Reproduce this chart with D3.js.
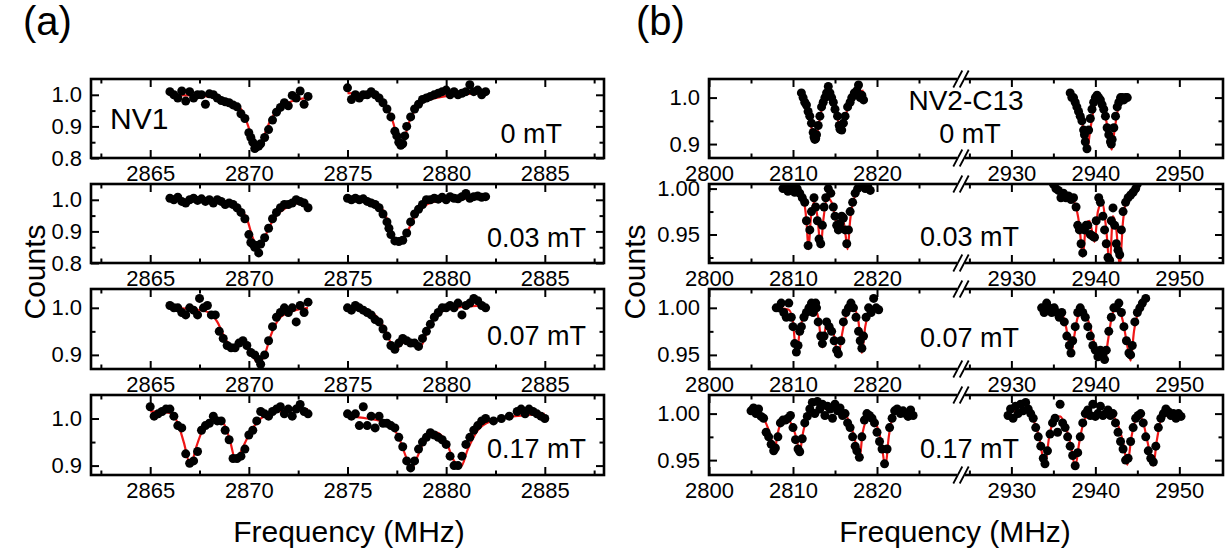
<!DOCTYPE html>
<html><head><meta charset="utf-8">
<script src="https://cdn.jsdelivr.net/npm/d3@7"></script>
<style>body{margin:0;background:#fff}svg{display:block}text{font-family:'Liberation Sans',Arial,Helvetica,sans-serif;fill:#000}</style>
</head><body><script>
// ---------------- DATA ----------------
const aXDomain = [2862, 2888];
const aXMajor = [2865, 2870, 2875, 2880, 2885];
const aXMinor = [2862.5, 2867.5, 2872.5, 2877.5, 2882.5, 2887.5];
const bXDomainLow = [2800, 2830];
const bXDomainHigh = [2924, 2955.2];
const bXMajorLow = [2800, 2810, 2820];
const bXMinorLow = [2805, 2815, 2825];
const bXMajorHigh = [2930, 2940, 2950];
const bXMinorHigh = [2925, 2935, 2945];

const aYDomains = [[0.8, 1.05], [0.8, 1.05], [0.87, 1.04], [0.88, 1.05]];
const aYMajor = [[0.8, 0.9, 1.0], [0.8, 0.9, 1.0], [0.9, 1.0], [0.9, 1.0]];
const aYMinor = [[0.85, 0.95], [0.85, 0.95], [0.95], [0.95]];
const bYDomains = [[0.87, 1.04], [0.919, 1.005], [0.935, 1.02], [0.934, 1.02]];
const bYMajor = [[0.9, 1.0], [0.95, 1.0], [0.95, 1.0], [0.95, 1.0]];
const bYMinor = [[0.95], [0.925, 0.975], [0.975], [0.975]];
const bYFormat = [".1f", ".2f", ".2f", ".2f"];

const fieldLabels = ["0 mT", "0.03 mT", "0.07 mT", "0.17 mT"];

// Panel (a) NV1 measured points
const nv1_0_low = [[2866.0,1.01],[2866.2,1.0],[2866.4,0.99],[2866.6,1.012],[2866.8,0.98],[2867.0,1.01],[2867.2,0.99],[2867.4,1.0],[2867.6,1.0],[2867.8,0.97],[2868.0,1.003],[2868.2,1.0],[2868.4,0.99],[2868.6,0.982],[2868.8,0.978],[2869.0,0.975],[2869.2,0.968],[2869.4,0.962],[2869.6,0.94],[2869.8,0.925],[2870.0,0.88],[2870.1,0.865],[2870.2,0.85],[2870.3,0.83],[2870.4,0.835],[2870.5,0.838],[2870.6,0.845],[2870.8,0.865],[2871.0,0.89],[2871.2,0.92],[2871.4,0.945],[2871.6,0.96],[2871.8,0.975],[2872.0,0.965],[2872.2,0.998],[2872.4,0.99],[2872.6,1.012],[2872.8,0.97],[2873.0,0.995]];
const nv1_0_high = [[2875.0,1.022],[2875.2,0.985],[2875.4,1.0],[2875.6,0.99],[2875.8,1.0],[2876.0,1.0],[2876.2,1.01],[2876.4,1.0],[2876.6,0.99],[2876.8,0.975],[2877.0,0.955],[2877.2,0.93],[2877.4,0.885],[2877.5,0.87],[2877.6,0.85],[2877.7,0.84],[2877.8,0.845],[2877.9,0.87],[2878.0,0.9],[2878.2,0.93],[2878.4,0.955],[2878.6,0.97],[2878.8,0.985],[2879.0,0.99],[2879.2,0.995],[2879.4,1.0],[2879.6,1.005],[2879.8,1.01],[2880.0,1.015],[2880.2,1.0],[2880.4,1.01],[2880.6,1.0],[2880.8,1.005],[2881.0,1.01],[2881.2,1.032],[2881.4,1.01],[2881.6,1.015],[2881.8,1.0],[2882.0,1.01]];
const nv1_003_low = [[2866.0,1.005],[2866.2,1.0],[2866.4,1.008],[2866.6,0.995],[2866.8,0.99],[2867.0,1.0],[2867.2,1.005],[2867.4,0.998],[2867.6,1.003],[2867.8,0.995],[2868.0,1.0],[2868.2,0.99],[2868.4,1.0],[2868.6,0.995],[2868.8,0.985],[2869.0,0.99],[2869.2,0.985],[2869.4,0.975],[2869.6,0.96],[2869.8,0.94],[2870.0,0.89],[2870.1,0.865],[2870.2,0.86],[2870.3,0.85],[2870.4,0.855],[2870.5,0.832],[2870.6,0.86],[2870.8,0.88],[2871.0,0.91],[2871.2,0.94],[2871.4,0.96],[2871.6,0.975],[2871.8,0.985],[2872.0,0.985],[2872.2,0.99],[2872.4,1.0],[2872.6,0.995],[2872.8,0.99],[2873.0,0.975]];
const nv1_003_high = [[2875.0,1.005],[2875.2,1.0],[2875.4,1.005],[2875.6,1.0],[2875.8,1.003],[2876.0,0.995],[2876.2,0.99],[2876.4,0.985],[2876.6,0.975],[2876.8,0.955],[2877.0,0.93],[2877.1,0.91],[2877.2,0.89],[2877.4,0.87],[2877.6,0.868],[2877.8,0.872],[2878.0,0.895],[2878.2,0.93],[2878.4,0.955],[2878.6,0.97],[2878.8,0.985],[2879.0,1.0],[2879.2,1.0],[2879.4,1.005],[2879.6,1.002],[2879.8,1.008],[2880.0,1.0],[2880.2,1.01],[2880.4,1.005],[2880.6,1.003],[2880.8,1.01],[2881.0,1.02],[2881.2,1.005],[2881.4,1.01],[2881.6,1.012],[2881.8,1.008],[2882.0,1.01]];
const nv1_007_low = [[2866.0,1.005],[2866.2,1.0],[2866.4,1.0],[2866.6,0.99],[2866.8,0.985],[2867.0,1.0],[2867.2,0.995],[2867.4,0.985],[2867.5,1.02],[2867.7,1.0],[2867.9,1.005],[2868.1,0.985],[2868.3,0.985],[2868.5,0.95],[2868.7,0.935],[2868.9,0.92],[2869.1,0.915],[2869.3,0.915],[2869.5,0.925],[2869.7,0.93],[2869.9,0.92],[2870.1,0.905],[2870.3,0.9],[2870.5,0.89],[2870.6,0.88],[2870.8,0.9],[2871.0,0.93],[2871.2,0.96],[2871.4,0.98],[2871.6,0.99],[2871.8,1.0],[2872.0,0.99],[2872.2,1.0],[2872.4,0.97],[2872.6,1.005],[2872.8,0.99],[2873.0,1.012]];
const nv1_007_high = [[2875.0,1.0],[2875.2,0.995],[2875.4,1.005],[2875.6,1.0],[2875.8,0.995],[2876.0,0.99],[2876.2,0.985],[2876.4,0.975],[2876.6,0.97],[2876.8,0.955],[2877.0,0.94],[2877.2,0.92],[2877.4,0.912],[2877.6,0.925],[2877.8,0.935],[2878.0,0.93],[2878.2,0.925],[2878.4,0.925],[2878.6,0.918],[2878.8,0.935],[2879.0,0.95],[2879.2,0.965],[2879.4,0.98],[2879.6,0.99],[2879.8,1.0],[2880.0,1.0],[2880.2,1.005],[2880.4,1.0],[2880.6,1.01],[2880.8,0.985],[2881.0,1.005],[2881.2,1.01],[2881.4,1.02],[2881.6,1.015],[2881.8,1.005],[2882.0,1.0]];
const nv1_017_low = [[2865.0,1.025],[2865.2,1.005],[2865.4,1.01],[2865.6,1.015],[2865.8,1.02],[2866.0,1.02],[2866.2,1.005],[2866.4,0.985],[2866.6,0.98],[2866.8,0.925],[2867.0,0.905],[2867.2,0.91],[2867.4,0.93],[2867.6,0.975],[2867.8,0.985],[2868.0,0.99],[2868.2,1.005],[2868.4,0.995],[2868.6,0.995],[2868.8,0.975],[2869.0,0.955],[2869.2,0.915],[2869.4,0.915],[2869.6,0.92],[2869.8,0.935],[2870.0,0.965],[2870.2,0.975],[2870.4,0.995],[2870.6,1.015],[2870.8,1.01],[2871.0,1.005],[2871.2,1.015],[2871.4,1.02],[2871.6,1.025],[2871.8,1.01],[2872.0,1.02],[2872.2,1.005],[2872.4,1.02],[2872.6,1.03],[2872.8,1.015],[2873.0,1.01]];
const nv1_017_high = [[2875.0,1.01],[2875.2,1.005],[2875.4,1.01],[2875.6,0.985],[2875.8,1.025],[2876.0,0.985],[2876.2,1.005],[2876.4,0.98],[2876.6,1.005],[2876.8,0.99],[2877.0,0.99],[2877.2,0.985],[2877.4,0.98],[2877.6,0.96],[2877.8,0.94],[2878.0,0.91],[2878.2,0.895],[2878.4,0.91],[2878.6,0.935],[2878.8,0.95],[2879.0,0.96],[2879.2,0.97],[2879.4,0.965],[2879.6,0.96],[2879.8,0.955],[2880.0,0.945],[2880.2,0.92],[2880.4,0.9],[2880.6,0.9],[2880.8,0.92],[2881.0,0.945],[2881.2,0.96],[2881.4,0.975],[2881.6,0.985],[2881.8,0.995],[2882.0,1.0],[2882.4,0.995],[2882.8,1.0],[2883.2,1.005],[2883.6,1.015],[2883.8,1.02],[2884.0,1.01],[2884.2,1.02],[2884.4,1.015],[2884.6,1.01],[2884.8,1.005],[2885.0,1.0]];

// Panel (a) fitted curves
const nv1_0_fitLow = [[2866,1.0],[2867,0.998],[2868,0.994],[2868.8,0.985],[2869.3,0.97],[2869.7,0.945],[2870.0,0.895],[2870.2,0.855],[2870.35,0.83],[2870.55,0.84],[2870.8,0.875],[2871.1,0.92],[2871.5,0.955],[2872,0.975],[2872.5,0.985],[2873,0.99]];
const nv1_0_fitHigh = [[2875,1.005],[2876,1.0],[2876.6,0.99],[2877,0.96],[2877.3,0.915],[2877.5,0.87],[2877.7,0.84],[2877.9,0.865],[2878.1,0.91],[2878.4,0.95],[2878.8,0.975],[2879.5,0.99],[2880.5,1.0],[2882,1.005]];
const nv1_003_fitLow = [[2866,1.0],[2867,1.0],[2868,0.998],[2869,0.99],[2869.5,0.975],[2869.9,0.94],[2870.2,0.88],[2870.45,0.845],[2870.7,0.865],[2871,0.91],[2871.4,0.95],[2871.9,0.975],[2872.5,0.99],[2873,0.993]];
const nv1_003_fitHigh = [[2875,1.0],[2876,1.0],[2876.5,0.99],[2876.9,0.955],[2877.2,0.905],[2877.5,0.865],[2877.7,0.862],[2878,0.895],[2878.4,0.945],[2878.9,0.98],[2879.5,0.995],[2880.5,1.003],[2882,1.005]];
const nv1_007_fitLow = [[2866,1.0],[2867,0.998],[2868,0.99],[2868.4,0.97],[2868.8,0.935],[2869.1,0.918],[2869.4,0.92],[2869.7,0.925],[2870.1,0.905],[2870.5,0.882],[2870.8,0.9],[2871.1,0.94],[2871.5,0.975],[2872,0.99],[2873,1.0]];
const nv1_007_fitHigh = [[2875,1.0],[2876,0.995],[2876.5,0.98],[2876.9,0.955],[2877.2,0.925],[2877.45,0.913],[2877.8,0.925],[2878.1,0.93],[2878.5,0.92],[2878.7,0.918],[2879,0.945],[2879.3,0.97],[2879.7,0.99],[2880.5,1.0],[2882,1.005]];
const nv1_017_fitLow = [[2865,1.015],[2866,1.012],[2866.4,0.99],[2866.7,0.95],[2867.05,0.9],[2867.3,0.935],[2867.6,0.97],[2868.1,0.995],[2868.6,0.995],[2869.0,0.96],[2869.35,0.91],[2869.6,0.93],[2870,0.965],[2870.6,1.0],[2871.5,1.015],[2873,1.02]];
const nv1_017_fitHigh = [[2875,1.005],[2876,1.0],[2877,0.99],[2877.6,0.96],[2878,0.915],[2878.25,0.895],[2878.5,0.915],[2879,0.96],[2879.5,0.97],[2880,0.95],[2880.4,0.91],[2880.75,0.898],[2881.1,0.935],[2881.6,0.975],[2882.3,0.995],[2883.5,1.005],[2885,1.01]];

// Panel (b) NV2-C13 measured points
const nv2_0_low = [[2811.0,1.01],[2811.2,1.0],[2811.4,0.99],[2811.6,0.984],[2811.8,0.97],[2812.0,0.96],[2812.2,0.945],[2812.4,0.925],[2812.5,0.915],[2812.6,0.91],[2812.7,0.912],[2812.8,0.92],[2813.0,0.94],[2813.2,0.96],[2813.4,0.98],[2813.6,0.99],[2813.8,1.0],[2814.0,1.01],[2814.2,1.024],[2814.4,1.01],[2814.6,1.0],[2814.8,0.99],[2815.0,0.975],[2815.3,0.96],[2815.5,0.94],[2815.6,0.932],[2815.8,0.93],[2816.0,0.945],[2816.2,0.96],[2816.5,0.98],[2816.8,0.99],[2817.0,1.0],[2817.3,1.01],[2817.6,1.015],[2817.8,1.027],[2818.0,1.0],[2818.2,1.005],[2818.4,0.995]];
const nv2_0_high = [[2937.0,1.01],[2937.2,1.0],[2937.4,1.0],[2937.6,0.99],[2937.8,0.98],[2938.0,0.97],[2938.2,0.96],[2938.4,0.95],[2938.6,0.93],[2938.7,0.92],[2938.8,0.905],[2939.0,0.89],[2939.2,0.93],[2939.4,0.955],[2939.6,0.975],[2939.8,0.99],[2940.0,1.0],[2940.2,1.005],[2940.4,1.0],[2940.6,0.995],[2940.8,0.985],[2941.0,0.975],[2941.2,0.96],[2941.4,0.935],[2941.6,0.92],[2941.8,0.905],[2941.9,0.9],[2942.0,0.91],[2942.2,0.935],[2942.4,0.96],[2942.6,0.98],[2942.8,0.99],[2943.0,1.0],[2943.2,1.0],[2943.4,0.995],[2943.6,1.0],[2943.8,1.0]];
const nv2_003_low = [[2808.8,1.0],[2809.1,1.003],[2809.4,0.997],[2809.7,1.0],[2810.0,1.005],[2810.2,0.996],[2810.5,1.0],[2810.8,0.995],[2811.1,0.99],[2811.4,0.985],[2811.6,0.965],[2811.8,0.938],[2812.0,0.955],[2812.2,0.975],[2812.5,0.99],[2812.7,0.98],[2812.9,0.965],[2813.1,0.945],[2813.3,0.94],[2813.5,0.96],[2813.7,0.98],[2813.9,0.99],[2814.2,1.0],[2814.5,0.995],[2814.8,0.98],[2815.0,0.97],[2815.2,0.96],[2815.4,0.955],[2815.6,0.962],[2815.8,0.97],[2816.0,0.968],[2816.2,0.955],[2816.4,0.94],[2816.6,0.955],[2816.8,0.975],[2817.1,0.985],[2817.4,0.995],[2817.7,1.0],[2818.0,1.005],[2818.3,1.003],[2818.6,1.0],[2818.9,1.002],[2819.2,0.998]];
const nv2_003_high = [[2935.0,1.005],[2935.3,1.0],[2935.6,0.998],[2935.9,0.99],[2936.2,0.995],[2936.5,0.99],[2936.8,0.992],[2937.1,0.988],[2937.4,0.99],[2937.7,0.98],[2937.9,0.96],[2938.1,0.955],[2938.3,0.94],[2938.5,0.93],[2938.7,0.955],[2938.9,0.96],[2939.1,0.96],[2939.4,0.95],[2939.7,0.948],[2939.9,0.947],[2940.1,0.965],[2940.4,0.99],[2940.6,0.985],[2940.9,0.97],[2941.1,0.955],[2941.3,0.94],[2941.5,0.925],[2941.7,0.922],[2941.9,0.965],[2942.1,0.979],[2942.3,0.96],[2942.5,0.94],[2942.7,0.933],[2942.9,0.928],[2943.1,0.955],[2943.3,0.975],[2943.6,0.985],[2943.9,0.99],[2944.2,0.993],[2944.5,0.996],[2944.8,1.0],[2945.0,1.005]];
const nv2_007_low = [[2808.0,1.0],[2808.3,1.0],[2808.6,1.005],[2808.9,0.995],[2809.2,0.99],[2809.5,1.005],[2809.8,0.99],[2810.0,0.98],[2810.2,0.962],[2810.4,0.953],[2810.6,0.96],[2810.8,0.975],[2811.0,0.98],[2811.3,0.99],[2811.6,0.995],[2811.9,1.0],[2812.2,1.005],[2812.3,1.002],[2812.4,0.995],[2812.5,1.0],[2812.7,1.005],[2812.8,1.0],[2813.0,0.985],[2813.3,0.97],[2813.5,0.962],[2813.7,0.97],[2814.0,0.985],[2814.3,0.98],[2814.6,0.975],[2814.9,0.965],[2815.2,0.955],[2815.4,0.951],[2815.7,0.965],[2816.0,0.985],[2816.3,0.995],[2816.6,1.0],[2816.9,1.005],[2817.2,1.0],[2817.5,0.99],[2817.8,0.975],[2818.0,0.965],[2818.2,0.957],[2818.4,0.97],[2818.7,0.99],[2819.0,1.0],[2819.3,0.995],[2819.6,1.01],[2819.9,1.0],[2820.2,0.998]];
const nv2_007_high = [[2933.6,1.0],[2933.9,0.995],[2934.2,1.005],[2934.5,1.0],[2934.8,0.995],[2935.1,1.0],[2935.4,0.995],[2935.7,0.99],[2936.0,0.995],[2936.3,0.985],[2936.6,0.97],[2936.9,0.96],[2937.1,0.952],[2937.3,0.965],[2937.6,0.98],[2937.9,0.995],[2938.2,1.0],[2938.5,0.995],[2938.8,0.99],[2939.1,0.98],[2939.4,0.97],[2939.7,0.96],[2940.0,0.955],[2940.3,0.948],[2940.6,0.955],[2940.9,0.95],[2941.1,0.945],[2941.3,0.955],[2941.6,0.975],[2941.9,0.99],[2942.2,1.0],[2942.5,1.0],[2942.8,1.005],[2943.1,0.995],[2943.4,0.98],[2943.7,0.965],[2944.0,0.952],[2944.2,0.95],[2944.4,0.96],[2944.7,0.985],[2945.0,0.995],[2945.3,1.0],[2945.6,1.005],[2946.0,1.01]];
const nv2_017_low = [[2805.0,1.003],[2805.3,1.006],[2805.6,1.0],[2805.9,1.005],[2806.2,0.997],[2806.5,0.995],[2806.8,0.98],[2807.1,0.975],[2807.4,0.967],[2807.7,0.96],[2807.9,0.963],[2808.2,0.975],[2808.5,0.99],[2808.8,0.993],[2809.1,0.993],[2809.4,0.995],[2809.7,0.998],[2810.0,0.985],[2810.3,0.972],[2810.6,0.962],[2810.8,0.959],[2811.1,0.973],[2811.4,0.99],[2811.7,0.997],[2812.0,1.005],[2812.3,1.012],[2812.6,1.0],[2812.9,1.013],[2813.2,1.005],[2813.5,1.01],[2813.8,0.998],[2814.1,1.008],[2814.4,1.005],[2814.7,0.995],[2815.0,1.01],[2815.3,1.003],[2815.6,1.006],[2815.9,0.998],[2816.2,1.0],[2816.5,0.99],[2816.8,0.985],[2817.1,0.975],[2817.4,0.965],[2817.6,0.96],[2817.9,0.953],[2818.2,0.975],[2818.5,0.993],[2818.8,1.0],[2819.1,0.998],[2819.4,0.995],[2819.7,0.99],[2820.0,0.98],[2820.3,0.97],[2820.6,0.962],[2820.9,0.946],[2821.2,0.962],[2821.5,0.985],[2821.8,0.995],[2822.1,1.003],[2822.4,1.005],[2822.8,1.0],[2823.1,1.003],[2823.4,1.0],[2823.7,0.997],[2824.0,1.004],[2824.3,0.998]];
const nv2_017_high = [[2929.6,0.998],[2929.9,1.005],[2930.2,0.995],[2930.5,1.008],[2930.8,1.0],[2931.1,1.01],[2931.4,1.003],[2931.7,1.012],[2932.0,1.005],[2932.3,1.0],[2932.6,0.995],[2932.9,0.985],[2933.2,0.975],[2933.5,0.965],[2933.8,0.952],[2934.0,0.946],[2934.3,0.96],[2934.6,0.978],[2934.9,0.99],[2935.2,0.995],[2935.5,0.98],[2935.8,1.01],[2936.1,0.99],[2936.4,0.985],[2936.7,0.975],[2937.0,0.965],[2937.3,0.955],[2937.6,0.944],[2937.9,0.958],[2938.2,0.975],[2938.5,0.99],[2938.8,1.0],[2939.1,1.004],[2939.4,0.998],[2939.7,1.01],[2940.0,0.997],[2940.3,1.0],[2940.6,1.008],[2940.9,0.998],[2941.2,1.0],[2941.5,1.004],[2941.8,0.998],[2942.1,1.0],[2942.4,0.99],[2942.7,0.98],[2943.0,0.97],[2943.3,0.962],[2943.6,0.95],[2943.9,0.952],[2944.2,0.97],[2944.5,0.985],[2944.8,0.995],[2945.1,0.998],[2945.4,1.0],[2945.7,0.99],[2946.0,0.975],[2946.3,0.96],[2946.6,0.952],[2946.9,0.948],[2947.2,0.965],[2947.5,0.985],[2947.8,0.995],[2948.1,1.0],[2948.4,1.005],[2948.7,1.002],[2949.0,0.998],[2949.3,1.0],[2949.6,0.995],[2949.9,1.0],[2950.2,0.997]];

// Panel (b) fitted curves
const nv2_0_fitLow = [[2811,1.01],[2811.6,0.985],[2812,0.955],[2812.3,0.925],[2812.6,0.905],[2812.9,0.925],[2813.3,0.965],[2813.8,0.995],[2814.3,1.005],[2814.8,0.99],[2815.2,0.965],[2815.5,0.94],[2815.75,0.928],[2816.0,0.94],[2816.4,0.97],[2817,0.995],[2817.6,1.01],[2818.4,1.015]];
const nv2_0_fitHigh = [[2937,1.005],[2937.8,0.985],[2938.4,0.95],[2938.75,0.91],[2939.05,0.89],[2939.35,0.925],[2939.8,0.975],[2940.3,1.0],[2940.8,0.99],[2941.3,0.95],[2941.7,0.905],[2941.95,0.888],[2942.25,0.925],[2942.7,0.975],[2943.3,0.995],[2943.8,1.0]];
const nv2_003_fitLow = [[2809,1.0],[2810.5,0.998],[2811.2,0.99],[2811.6,0.965],[2811.85,0.934],[2812.1,0.965],[2812.5,0.985],[2812.9,0.97],[2813.3,0.936],[2813.6,0.965],[2814.1,0.99],[2814.6,0.985],[2815.1,0.965],[2815.4,0.953],[2815.7,0.965],[2816.0,0.965],[2816.25,0.95],[2816.5,0.934],[2816.8,0.965],[2817.3,0.99],[2818,1.0],[2819.2,1.003]];
const nv2_003_fitHigh = [[2935,1.003],[2936.5,0.995],[2937.5,0.985],[2938.1,0.96],[2938.5,0.926],[2938.9,0.962],[2939.3,0.965],[2939.9,0.942],[2940.3,0.975],[2940.8,0.985],[2941.3,0.955],[2941.7,0.917],[2942.1,0.97],[2942.5,0.955],[2942.9,0.916],[2943.3,0.965],[2943.8,0.99],[2945,1.0]];
const nv2_007_fitLow = [[2808,1.0],[2809.5,0.998],[2810.0,0.985],[2810.4,0.95],[2810.8,0.975],[2811.5,0.995],[2812.5,1.0],[2813.0,0.99],[2813.5,0.958],[2813.9,0.98],[2814.3,0.985],[2814.9,0.97],[2815.4,0.948],[2815.8,0.97],[2816.5,0.995],[2817.3,0.998],[2817.8,0.985],[2818.2,0.952],[2818.6,0.98],[2819.3,0.998],[2820.2,1.0]];
const nv2_007_fitHigh = [[2933.6,1.0],[2935.5,0.998],[2936.3,0.988],[2936.8,0.965],[2937.1,0.95],[2937.4,0.965],[2937.9,0.99],[2938.5,0.997],[2939.2,0.985],[2939.8,0.965],[2940.3,0.95],[2940.7,0.958],[2941.1,0.942],[2941.5,0.965],[2942.1,0.995],[2942.7,1.0],[2943.3,0.985],[2943.8,0.96],[2944.2,0.944],[2944.6,0.975],[2945.2,0.997],[2946.0,1.005]];
const nv2_017_fitLow = [[2805,1.003],[2806.3,0.997],[2807.0,0.985],[2807.5,0.97],[2807.8,0.958],[2808.1,0.975],[2808.6,0.99],[2809.4,0.993],[2810.0,0.985],[2810.5,0.97],[2810.8,0.957],[2811.1,0.975],[2811.7,0.995],[2812.5,1.002],[2814,1.006],[2815.5,1.005],[2816.5,0.995],[2817.3,0.975],[2817.9,0.95],[2818.3,0.98],[2819,0.995],[2819.8,0.99],[2820.5,0.97],[2821.0,0.943],[2821.4,0.975],[2822.1,1.0],[2823,1.004],[2824.3,1.003]];
const nv2_017_fitHigh = [[2929.6,1.002],[2931.5,1.003],[2932.5,0.995],[2933.3,0.975],[2934.0,0.945],[2934.5,0.975],[2935.2,0.995],[2935.8,0.997],[2936.5,0.985],[2937.1,0.965],[2937.6,0.943],[2938.1,0.97],[2938.8,0.995],[2940.5,1.001],[2942,0.998],[2942.8,0.985],[2943.4,0.965],[2943.8,0.945],[2944.3,0.975],[2945.0,0.996],[2945.5,0.995],[2946.2,0.97],[2946.9,0.944],[2947.3,0.97],[2948,0.997],[2950.2,1.0]];

const aPointsLow = [nv1_0_low, nv1_003_low, nv1_007_low, nv1_017_low];
const aPointsHigh = [nv1_0_high, nv1_003_high, nv1_007_high, nv1_017_high];
const aFitLow = [nv1_0_fitLow, nv1_003_fitLow, nv1_007_fitLow, nv1_017_fitLow];
const aFitHigh = [nv1_0_fitHigh, nv1_003_fitHigh, nv1_007_fitHigh, nv1_017_fitHigh];
const bPointsLow = [nv2_0_low, nv2_003_low, nv2_007_low, nv2_017_low];
const bPointsHigh = [nv2_0_high, nv2_003_high, nv2_007_high, nv2_017_high];
const bFitLow = [nv2_0_fitLow, nv2_003_fitLow, nv2_007_fitLow, nv2_017_fitLow];
const bFitHigh = [nv2_0_fitHigh, nv2_003_fitHigh, nv2_007_fitHigh, nv2_017_fitHigh];

// ---------------- LAYOUT ----------------
const W = 1231, H = 554;
const rowTop = [79, 184, 289, 395];
const rowBottom = [158, 263, 369, 475];
const A = {x0: 91, x1: 604};
const B = {x0: 709, xb: 961, x1: 1223};
const TICK_FS = 22, LABEL_FS = 27, TITLE_FS = 30;
const DOT_R = 4.5;
const FIT_COLOR = "#f01616";

const svg = d3.select("body").append("svg").attr("width", W).attr("height", H);
const defs = svg.append("defs");

const xa = d3.scaleLinear().domain(aXDomain).range([A.x0, A.x1]);
const xbL = d3.scaleLinear().domain(bXDomainLow).range([B.x0, B.xb]);
const xbR = d3.scaleLinear().domain(bXDomainHigh).range([B.xb, B.x1]);

function styleAxis(g) {
  g.select(".domain").remove();
  g.selectAll(".tick line").attr("stroke", "#000").attr("stroke-width", 2);
  g.selectAll(".tick text").attr("font-size", TICK_FS).attr("fill", "#000")
    .style("font-family", "'Liberation Sans',Arial,sans-serif");
}

function addAxis(g, axis, tx, ty) {
  const ag = g.append("g").attr("transform", `translate(${tx},${ty})`).call(axis);
  styleAxis(ag);
  return ag;
}

const line = d3.line().curve(d3.curveMonotoneX);

function drawRow(panel, i) {
  const top = rowTop[i], bottom = rowBottom[i];
  const x0 = panel === "a" ? A.x0 : B.x0;
  const x1 = panel === "a" ? A.x1 : B.x1;
  const dom = panel === "a" ? aYDomains[i] : bYDomains[i];
  const y = d3.scaleLinear().domain(dom).range([bottom, top]);
  const g = svg.append("g");
  const cid = `clip-${panel}-${i}`;
  defs.append("clipPath").attr("id", cid).append("rect")
    .attr("x", x0).attr("y", top).attr("width", x1 - x0).attr("height", bottom - top);
  const plot = g.append("g").attr("clip-path", `url(#${cid})`);

  const segs = panel === "a"
    ? [[xa, aPointsLow[i], aFitLow[i]], [xa, aPointsHigh[i], aFitHigh[i]]]
    : [[xbL, bPointsLow[i], bFitLow[i]], [xbR, bPointsHigh[i], bFitHigh[i]]];

  segs.forEach(([xs, pts, fit]) => {
    plot.append("path")
      .attr("d", line.x(d => xs(d[0])).y(d => y(d[1]))(fit))
      .attr("fill", "none").attr("stroke", FIT_COLOR).attr("stroke-width", 2.2);
  });
  segs.forEach(([xs, pts]) => {
    plot.append("g").selectAll("circle").data(pts).join("circle")
      .attr("cx", d => xs(d[0])).attr("cy", d => y(d[1])).attr("r", DOT_R).attr("fill", "#000");
  });

  // y axes
  const major = panel === "a" ? aYMajor[i] : bYMajor[i];
  const minor = panel === "a" ? aYMinor[i] : bYMinor[i];
  const fmt = panel === "a" ? d3.format(".1f") : d3.format(bYFormat[i]);
  addAxis(g, d3.axisLeft(y).tickValues(major).tickSize(-8).tickPadding(9).tickFormat(fmt), x0, 0);
  addAxis(g, d3.axisLeft(y).tickValues(minor).tickSize(-4.5).tickFormat(""), x0, 0);
  addAxis(g, d3.axisRight(y).tickValues(major).tickSize(-8).tickFormat(""), x1, 0);
  addAxis(g, d3.axisRight(y).tickValues(minor).tickSize(-4.5).tickFormat(""), x1, 0);

  // x axes
  const xsets = panel === "a"
    ? [[xa, aXMajor, aXMinor]]
    : [[xbL, bXMajorLow, bXMinorLow], [xbR, bXMajorHigh, bXMinorHigh]];
  xsets.forEach(([xs, maj, mnr]) => {
    addAxis(g, d3.axisBottom(xs).tickValues(maj).tickSize(-8).tickPadding(7).tickFormat(d3.format("d")), 0, bottom);
    addAxis(g, d3.axisBottom(xs).tickValues(mnr).tickSize(-4.5).tickFormat(""), 0, bottom);
    addAxis(g, d3.axisTop(xs).tickValues(maj).tickSize(-8).tickFormat(""), 0, top);
    addAxis(g, d3.axisTop(xs).tickValues(mnr).tickSize(-4.5).tickFormat(""), 0, top);
  });

  // frame
  g.append("rect").attr("x", x0).attr("y", top).attr("width", x1 - x0).attr("height", bottom - top)
    .attr("fill", "none").attr("stroke", "#000").attr("stroke-width", 2.6);

  // axis break marks for panel b
  if (panel === "b") {
    [top, bottom].forEach(yy => {
      g.append("rect").attr("x", B.xb - 4).attr("y", yy - 2.5).attr("width", 8).attr("height", 5).attr("fill", "#fff");
      [-3.2, 3.2].forEach(off => {
        g.append("line")
          .attr("x1", B.xb + off - 4.5).attr("y1", yy + 8.5)
          .attr("x2", B.xb + off + 4.5).attr("y2", yy - 8.5)
          .attr("stroke", "#000").attr("stroke-width", 1.8);
      });
    });
  }
  return g;
}

for (let i = 0; i < 4; i++) { drawRow("a", i); drawRow("b", i); }

// ---------------- TEXT ----------------
function txt(x, y, s, size, anchor) {
  return svg.append("text").attr("x", x).attr("y", y).attr("font-size", size)
    .attr("text-anchor", anchor || "start").text(s);
}
txt(23, 35, "(a)", 40);
txt(636, 35, "(b)", 40);

// Panel a annotations
txt(110, 129, "NV1", 30);
txt(562, 143, fieldLabels[0], LABEL_FS, "end");
txt(586, 247, fieldLabels[1], LABEL_FS, "end");
txt(586, 345, fieldLabels[2], LABEL_FS, "end");
txt(586, 458, fieldLabels[3], LABEL_FS, "end");

// Panel b annotations
txt(966, 110, "NV2-C13", 28, "middle");
txt(970, 143, fieldLabels[0], LABEL_FS, "middle");
txt(920, 246, fieldLabels[1], LABEL_FS);
txt(920, 347, fieldLabels[2], LABEL_FS);
txt(920, 458, fieldLabels[3], LABEL_FS);

// Axis titles
svg.append("text").attr("transform", "translate(45,272) rotate(-90)")
  .attr("text-anchor", "middle").attr("font-size", TITLE_FS).text("Counts");
svg.append("text").attr("transform", "translate(645,272) rotate(-90)")
  .attr("text-anchor", "middle").attr("font-size", TITLE_FS).text("Counts");
txt(349, 542, "Frequency (MHz)", TITLE_FS, "middle");
txt(955, 542, "Frequency (MHz)", TITLE_FS, "middle");
</script></body></html>
